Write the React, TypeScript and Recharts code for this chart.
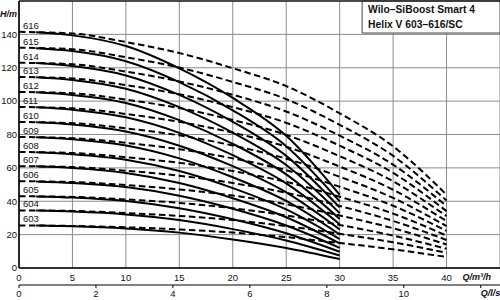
import {
  CartesianGrid,
  LabelList,
  Line,
  LineChart,
  ReferenceArea,
  ReferenceLine,
  XAxis,
  YAxis,
} from "recharts";

// one pair of curves per pump type
const STAGES = ["603", "604", "605", "606", "607", "608", "609", "610", "611", "612", "613", "614", "615", "616"];

// flow points, m³/h: single duty pump (solid) and full system (dashed)
const FLOW_ONE = [1.6, 5, 10, 15, 20, 25, 30];
const FLOW_ALL = [0, 5, 10, 15, 20, 25, 30, 35, 40];

// head in m at each flow point, one row per pump type
const HEAD_ONE = [
  [25.4, 25.0, 23.7, 21.2, 17.1, 12.0, 5.4],
  [34.4, 33.8, 32.1, 28.7, 23.3, 16.5, 7.5],
  [42.9, 42.2, 40.1, 35.8, 29.2, 20.8, 9.7],
  [51.9, 51.0, 48.5, 43.3, 35.5, 25.5, 12.1],
  [60.9, 59.9, 56.9, 50.9, 41.8, 30.4, 14.7],
  [69.4, 68.2, 64.9, 58.1, 47.9, 35.1, 17.3],
  [78.3, 77.1, 73.4, 65.7, 54.4, 40.2, 20.1],
  [87.3, 86.0, 81.8, 73.3, 61.0, 45.3, 23.1],
  [96.3, 94.9, 90.3, 81.0, 67.6, 50.7, 26.2],
  [105.3, 103.7, 98.9, 88.6, 74.4, 56.1, 29.4],
  [114.3, 112.7, 107.4, 96.4, 81.1, 61.7, 32.9],
  [122.8, 121.0, 115.4, 103.7, 87.6, 67.2, 36.3],
  [131.7, 130.0, 123.9, 111.4, 94.5, 73.0, 39.9],
  [141.2, 139.4, 133.0, 119.6, 101.9, 79.2, 43.9],
];

const HEAD_ALL = [
  [25.5, 25.2, 24.4, 23.1, 21.2, 18.5, 15.0, 11.2, 6.6],
  [34.5, 34.2, 32.9, 31.2, 28.7, 25.1, 20.5, 15.4, 9.1],
  [43.0, 42.6, 41.1, 39.0, 35.8, 31.5, 25.8, 19.4, 11.5],
  [52.0, 51.5, 49.7, 47.1, 43.4, 38.2, 31.5, 23.8, 14.1],
  [61.0, 60.5, 58.3, 55.3, 50.9, 45.1, 37.2, 28.2, 16.8],
  [69.5, 68.9, 66.4, 63.0, 58.1, 51.6, 42.7, 32.6, 19.4],
  [78.5, 77.8, 75.0, 71.2, 65.7, 58.6, 48.7, 37.3, 22.2],
  [87.5, 86.8, 83.7, 79.5, 73.4, 65.5, 54.7, 42.0, 25.1],
  [96.5, 95.7, 92.3, 87.6, 81.1, 72.7, 60.8, 46.9, 28.1],
  [105.5, 104.7, 100.9, 95.8, 88.7, 79.8, 67.0, 51.9, 31.1],
  [114.5, 113.6, 109.6, 104.1, 96.4, 87.0, 73.3, 57.0, 34.1],
  [123.0, 122.1, 117.7, 111.8, 103.8, 93.8, 79.3, 61.9, 37.1],
  [132.0, 131.1, 126.3, 120.1, 111.5, 101.2, 85.8, 67.2, 40.4],
  [141.5, 140.5, 135.4, 128.8, 119.7, 109.0, 92.7, 72.9, 43.9],
];

const Q_TICKS = [0, 5, 10, 15, 20, 25, 30, 35, 40, 45];
const LS_TICKS = [0, 2, 4, 6, 8, 10, 12];
const LS_RANGE = [0, 12.5];
const H_TICKS = [0, 20, 40, 60, 80, 100, 120, 140, 160];

const FONT = "'Liberation Sans', Arial, sans-serif";
const INK = "#111";

const toPoints = (flows: number[], heads: number[]) =>
  flows.map((q, i) => ({ q, h: heads[i] }));

function FlowTick({ x, y, payload }: any) {
  if (payload.value === 45) {
    return (
      <text x={x - 1} y={y} dy="0.71em" textAnchor="end" fontSize={9} fontWeight="bold"
        fontStyle="italic" fill={INK} fontFamily={FONT}>
        Q/m³/h
      </text>
    );
  }
  return (
    <text x={x} y={y} dy="0.71em" textAnchor="middle" fontSize={9.5} fill={INK} fontFamily={FONT}>
      {payload.value}
    </text>
  );
}

function LitreTick({ x, y, payload }: any) {
  if (payload.value === 12) {
    return (
      <text x={x} y={y} dy="0.71em" textAnchor="start" fontSize={9} fontWeight="bold"
        fontStyle="italic" fill={INK} fontFamily={FONT}>
        Q/l/s
      </text>
    );
  }
  return (
    <text x={x} y={y} dy="0.71em" textAnchor="middle" fontSize={9.5} fill={INK} fontFamily={FONT}>
      {payload.value}
    </text>
  );
}

function HeadTick({ x, y, payload }: any) {
  if (payload.value === 160) {
    return (
      <text x={x} y={y + 7.5} textAnchor="end" fontSize={9} fontWeight="bold" fontStyle="italic"
        fill={INK} fontFamily={FONT}>
        H/m
      </text>
    );
  }
  return (
    <text x={x} y={y} dy="0.355em" textAnchor="end" fontSize={9.5} fill={INK} fontFamily={FONT}>
      {payload.value}
    </text>
  );
}

function TitleText({ viewBox }: any) {
  const x = viewBox.x + 6;
  return (
    <g fontFamily={FONT} fontSize={10.3} fontWeight="bold" fill={INK}>
      <text x={x} y={12.5}>Wilo–SiBoost Smart 4</text>
      <text x={x} y={27.5}>Helix V 603–616/SC</text>
    </g>
  );
}

function stageLabel(name: string) {
  return (p: any) => {
    if (p.index !== 0) return null;
    const px = p.viewBox?.x ?? p.x;
    const py = p.viewBox?.y ?? p.y;
    return (
      <text x={px + 4} y={py - 3} fontSize={9.5} fill={INK} fontFamily={FONT}>
        {name}
      </text>
    );
  };
}

export default function App() {
  return (
    <div style={{ position: "absolute", left: 0, top: 0, width: 500, height: 300, background: "#fff" }}>
      <LineChart width={500} height={300} margin={{ top: 1, right: 0, bottom: 0, left: 0 }}>
        <CartesianGrid stroke="#8c8c8c" strokeWidth={1} />
        <XAxis
          type="number"
          dataKey="q"
          domain={[0, 45]}
          ticks={Q_TICKS}
          allowDataOverflow
          height={17}
          tickSize={0}
          tickMargin={6}
          tickLine={false}
          axisLine={{ stroke: "#000", strokeWidth: 1.6 }}
          tick={<FlowTick />}
        />
        <XAxis
          xAxisId="ls"
          type="number"
          dataKey="q"
          domain={LS_RANGE}
          ticks={LS_TICKS}
          allowDataOverflow
          height={15}
          tickSize={3}
          tickMargin={2}
          tickLine={{ stroke: "#000" }}
          axisLine={{ stroke: "#000", strokeWidth: 1.2 }}
          tick={<LitreTick />}
        />
        <YAxis
          type="number"
          domain={[0, 160]}
          ticks={H_TICKS}
          allowDataOverflow
          width={19}
          tickSize={0}
          tickMargin={2}
          tickLine={false}
          axisLine={{ stroke: "#000", strokeWidth: 1.6 }}
          tick={<HeadTick />}
        />
        <ReferenceLine y={160} stroke="#222" strokeWidth={1.5} />
        <ReferenceArea
          x1={32.1}
          x2={45}
          y1={140.8}
          y2={160}
          fill="#fff"
          fillOpacity={1}
          stroke="#444"
          strokeWidth={1}
          label={TitleText}
        />

        {/* carries the l/s scale so its axis gets drawn */}
        <Line
          xAxisId="ls"
          data={LS_RANGE.map((q) => ({ q, h: 0 }))}
          dataKey="h"
          stroke="none"
          dot={false}
          activeDot={false}
          legendType="none"
          isAnimationActive={false}
        />

        {STAGES.map((name, i) => (
          <Line
            key={`all-${name}`}
            data={toPoints(FLOW_ALL, HEAD_ALL[i])}
            dataKey="h"
            type="monotone"
            stroke="#000"
            strokeWidth={2}
            strokeDasharray="6.5 3.5"
            dot={false}
            activeDot={false}
            isAnimationActive={false}
          >
            <LabelList dataKey="h" content={stageLabel(name)} />
          </Line>
        ))}
        {STAGES.map((name, i) => (
          <Line
            key={`one-${name}`}
            data={toPoints(FLOW_ONE, HEAD_ONE[i])}
            dataKey="h"
            type="monotone"
            stroke="#000"
            strokeWidth={2}
            dot={false}
            activeDot={false}
            isAnimationActive={false}
          />
        ))}
      </LineChart>
    </div>
  );
}
